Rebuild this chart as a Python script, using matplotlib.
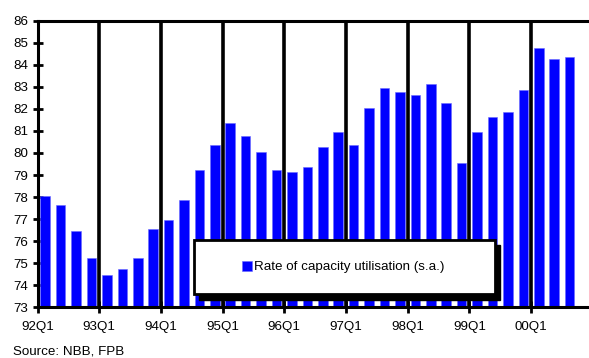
import numpy as np
import matplotlib
matplotlib.use("Agg")
import matplotlib.pyplot as plt
from matplotlib.patches import Rectangle

# quarterly capacity utilisation (s.a.), 92Q1 .. 00Q3
quarters = [f"{y:02d}Q{q}" for y in [92, 93, 94, 95, 96, 97, 98, 99, 0] for q in range(1, 5)][:35]
utilisation = [78.05, 77.65, 76.45, 75.25,
               74.45, 74.75, 75.25, 76.55,
               76.95, 77.85, 79.25, 80.35,
               81.35, 80.75, 80.05, 79.25,
               79.15, 79.35, 80.25, 80.95,
               80.35, 82.05, 82.95, 82.75,
               82.65, 83.15, 82.25, 79.55,
               80.95, 81.65, 81.85, 82.85,
               84.75, 84.25, 84.35]
year_labels = ["92Q1", "93Q1", "94Q1", "95Q1", "96Q1", "97Q1", "98Q1", "99Q1", "00Q1"]

plt.rcParams['font.family'] = ['Liberation Sans', 'DejaVu Sans']
FS = 9.6

W, H = 589, 358
fig = plt.figure(figsize=(W / 100, H / 100), dpi=100)
ax = fig.add_axes([37.5 / W, 1 - 307.3 / H, 1 - 37.5 / W, (307.3 - 20.7) / H])

x = np.arange(len(utilisation)) + 0.5
ax.bar(x, np.array(utilisation) - 73, bottom=73, width=0.62, color="#0000ff",
       edgecolor="#6a6aff", linewidth=0.4, label="Rate of capacity utilisation (s.a.)", zorder=2)

# year separators
for k in range(1, len(year_labels)):
    ax.axvline(4 * k, color="black", linewidth=2.6, zorder=3)

ax.set_xlim(0, 35.76)
ax.set_ylim(73, 86)
ax.set_yticks(range(73, 87))
ax.set_xticks([4 * k for k in range(len(year_labels))])
ax.set_xticklabels(year_labels)

for s in ["left", "top", "bottom"]:
    ax.spines[s].set_linewidth(2.2)
    ax.spines[s].set_zorder(4)
ax.spines["right"].set_visible(False)
ax.tick_params(axis="y", direction="inout", length=7, width=2, labelsize=FS, pad=3)
ax.tick_params(axis="x", direction="inout", length=8, width=2, labelsize=FS, pad=6)

# legend box with shadow
fig.patches.append(Rectangle((199 / W, 1 - 300 / H), 301 / W, 55 / H, transform=fig.transFigure,
                             facecolor="black", edgecolor="black", zorder=3))
fig.patches.append(Rectangle((194 / W, 1 - 294 / H), 301 / W, 54 / H, transform=fig.transFigure,
                             facecolor="white", edgecolor="black", linewidth=2, zorder=4))
h, l = ax.get_legend_handles_labels()
leg = fig.legend(h, l, loc="center", bbox_to_anchor=(343 / W, 1 - 267 / H), frameon=False,
                 fontsize=FS, handlelength=0.75, handleheight=0.85, handletextpad=0.15)
leg.set_zorder(5)

fig.text(13 / W, 1 - 351 / H, "Source: NBB, FPB", fontsize=FS, va="center", ha="left")

fig.savefig("out.png", dpi=100)
